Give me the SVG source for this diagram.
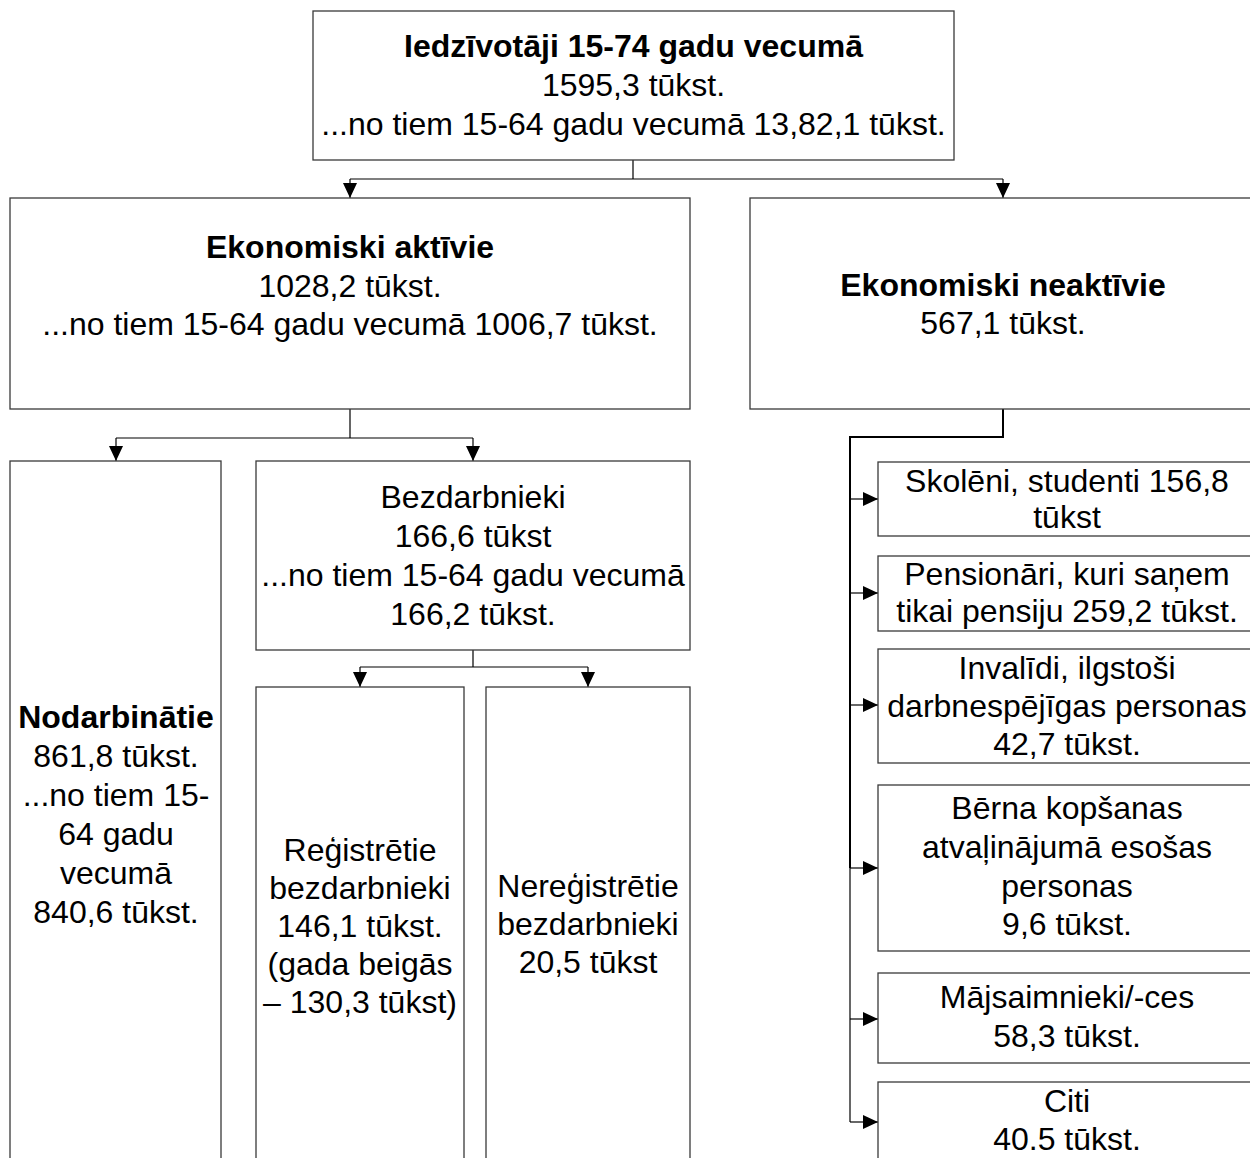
<svg xmlns="http://www.w3.org/2000/svg" width="1250" height="1158" viewBox="0 0 1250 1158">
<defs>
<style>
.box{fill:#fff;stroke:#3a3a3a;stroke-width:1.3}
.t{font-family:"Liberation Sans",Arial,sans-serif;font-size:32px;fill:#000;text-anchor:middle}
.b{font-weight:bold}
.c{fill:none;stroke:#000;stroke-width:1.2}
.ct{fill:none;stroke:#000;stroke-width:2}
</style>
<marker id="ah" markerUnits="userSpaceOnUse" markerWidth="15" markerHeight="14" refX="15" refY="7" orient="auto">
<path d="M0,0 L15,7 L0,14 z" fill="#000"/>
</marker>
</defs>
<rect width="1250" height="1158" fill="#fff"/>

<g id="connectors">
<path class="c" d="M633,160 V179 M350,179 H1003"/>
<path class="c" d="M350,179 V198" marker-end="url(#ah)"/>
<path class="c" d="M1003,179 V198" marker-end="url(#ah)"/>
<path class="c" d="M350,409 V438 M116,438 H473"/>
<path class="c" d="M116,438 V461" marker-end="url(#ah)"/>
<path class="c" d="M473,438 V461" marker-end="url(#ah)"/>
<path class="c" d="M473,650 V667 M360,667 H588"/>
<path class="c" d="M360,667 V687" marker-end="url(#ah)"/>
<path class="c" d="M588,667 V687" marker-end="url(#ah)"/>
<path class="ct" d="M1003,409 V437 H850 V868"/>
<path class="c" d="M850,868 V1122"/>
<path class="c" d="M850,499 H878" marker-end="url(#ah)"/>
<path class="c" d="M850,593 H878" marker-end="url(#ah)"/>
<path class="c" d="M850,705 H878" marker-end="url(#ah)"/>
<path class="c" d="M850,868 H878" marker-end="url(#ah)"/>
<path class="c" d="M850,1019 H878" marker-end="url(#ah)"/>
<path class="c" d="M850,1122 H878" marker-end="url(#ah)"/>
</g>

<g id="iedzivotaji">
<rect class="box" x="313" y="11" width="641" height="149"/>
<text class="t b" x="633.5" y="57">Iedzīvotāji 15-74 gadu vecumā</text>
<text class="t" x="633.5" y="96">1595,3 tūkst.</text>
<text class="t" x="633.5" y="135">...no tiem 15-64 gadu vecumā 13,82,1 tūkst.</text>
</g>

<g id="aktivie">
<rect class="box" x="10" y="198" width="680" height="211"/>
<text class="t b" x="350" y="258">Ekonomiski aktīvie</text>
<text class="t" x="350" y="297">1028,2 tūkst.</text>
<text class="t" x="350" y="335">...no tiem 15-64 gadu vecumā 1006,7 tūkst.</text>
</g>

<g id="neaktivie">
<rect class="box" x="750" y="198" width="506" height="211"/>
<text class="t b" x="1003" y="296">Ekonomiski neaktīvie</text>
<text class="t" x="1003" y="334">567,1 tūkst.</text>
</g>

<g id="nodarbinatie">
<rect class="box" x="10" y="461" width="211" height="720"/>
<text class="t b" x="116" y="728">Nodarbinātie</text>
<text class="t" x="116" y="767">861,8 tūkst.</text>
<text class="t" x="116" y="806">...no tiem 15-</text>
<text class="t" x="116" y="845">64 gadu</text>
<text class="t" x="116" y="884">vecumā</text>
<text class="t" x="116" y="923">840,6 tūkst.</text>
</g>

<g id="bezdarbnieki">
<rect class="box" x="256" y="461" width="434" height="189"/>
<text class="t" x="473" y="508">Bezdarbnieki</text>
<text class="t" x="473" y="547">166,6 tūkst</text>
<text class="t" x="473" y="586">...no tiem 15-64 gadu vecumā</text>
<text class="t" x="473" y="625">166,2 tūkst.</text>
</g>

<g id="registretie">
<rect class="box" x="256" y="687" width="208" height="500"/>
<text class="t" x="360" y="861">Reģistrētie</text>
<text class="t" x="360" y="899">bezdarbnieki</text>
<text class="t" x="360" y="937">146,1 tūkst.</text>
<text class="t" x="360" y="975">(gada beigās</text>
<text class="t" x="360" y="1013">– 130,3 tūkst)</text>
</g>

<g id="neregistretie">
<rect class="box" x="486" y="687" width="204" height="500"/>
<text class="t" x="588" y="897">Nereģistrētie</text>
<text class="t" x="588" y="935">bezdarbnieki</text>
<text class="t" x="588" y="973">20,5 tūkst</text>
</g>

<g id="skoleni">
<rect class="box" x="878" y="462" width="380" height="74"/>
<text class="t" x="1067" y="492">Skolēni, studenti 156,8</text>
<text class="t" x="1067" y="528">tūkst</text>
</g>

<g id="pensionari">
<rect class="box" x="878" y="556" width="380" height="75"/>
<text class="t" x="1067" y="585">Pensionāri, kuri saņem</text>
<text class="t" x="1067" y="622">tikai pensiju 259,2 tūkst.</text>
</g>

<g id="invalidi">
<rect class="box" x="878" y="649" width="380" height="114"/>
<text class="t" x="1067" y="679">Invalīdi, ilgstoši</text>
<text class="t" x="1067" y="717">darbnespējīgas personas</text>
<text class="t" x="1067" y="755">42,7 tūkst.</text>
</g>

<g id="berna">
<rect class="box" x="878" y="785" width="380" height="166"/>
<text class="t" x="1067" y="819">Bērna kopšanas</text>
<text class="t" x="1067" y="858">atvaļinājumā esošas</text>
<text class="t" x="1067" y="897">personas</text>
<text class="t" x="1067" y="935">9,6 tūkst.</text>
</g>

<g id="majsaimnieki">
<rect class="box" x="878" y="973" width="380" height="90"/>
<text class="t" x="1067" y="1008">Mājsaimnieki/-ces</text>
<text class="t" x="1067" y="1047">58,3 tūkst.</text>
</g>

<g id="citi">
<rect class="box" x="878" y="1082" width="380" height="120"/>
<text class="t" x="1067" y="1112">Citi</text>
<text class="t" x="1067" y="1150">40.5 tūkst.</text>
</g>
</svg>
